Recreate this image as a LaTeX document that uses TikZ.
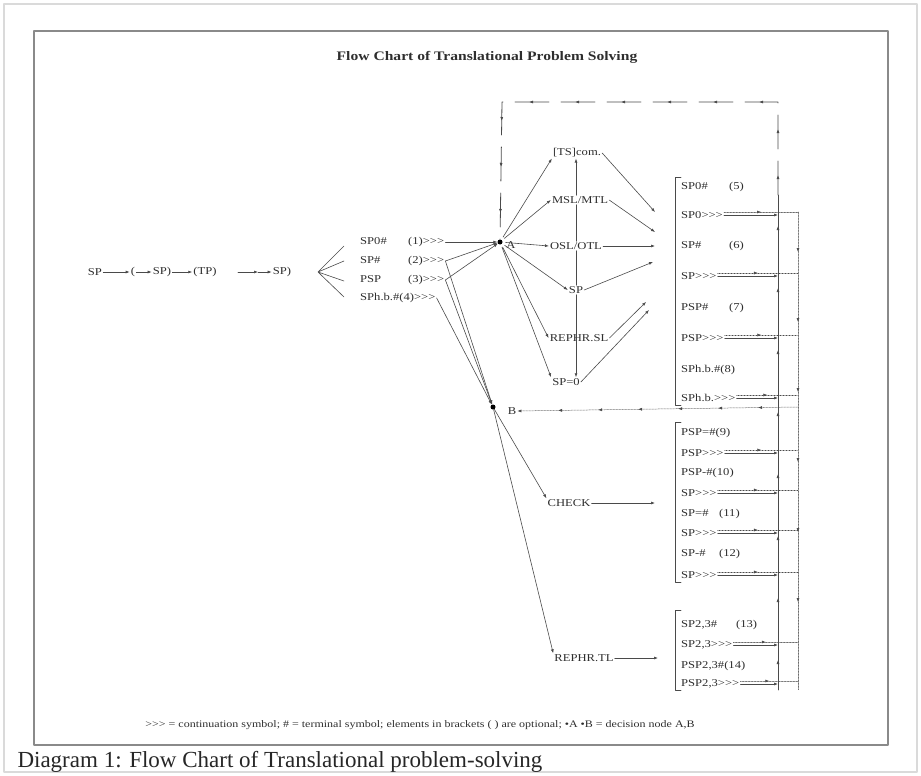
\documentclass[tikz,border=0pt]{standalone}
\usepackage{fontspec}
\setmainfont{Liberation Serif}
\newfontfamily\flowfont{Liberation Serif}[FakeStretch=1.2]
\usetikzlibrary{arrows.meta,decorations.markings}

\definecolor{inkgray}{HTML}{2E2E2E}
\definecolor{wiregray}{HTML}{4A4A4A}
\definecolor{framegray}{HTML}{8A8A8A}
\definecolor{edgegray}{HTML}{DADADA}

\newcommand\cntsym{>\kern0pt>\kern0pt>}

\tikzset{
  lbl/.style={font=\flowfont\fontsize{10.5}{11}\selectfont,text=inkgray,inner sep=1pt},
  item/.style={lbl,anchor=west},
  wire/.style={draw=wiregray,line width=.6pt},
  arr/.style={wire,-{Latex[length=4pt,width=3pt]}},
  dotwire/.style={draw=wiregray,line width=.5pt,densely dotted},
  tipsalong/.style={postaction={decorate,decoration={markings,
      mark=between positions #1 with {\arrow{Latex[length=4pt,width=3pt]}}}}},
  dnode/.style={circle,fill=black,inner sep=0pt,minimum size=5pt},
}

\begin{document}
\begin{tikzpicture}[x=1pt,y=-1pt,line cap=round,line join=round]
\path[use as bounding box] (0,0) rectangle (921,776);
% frames
\draw[edgegray,line width=1.2pt] (4,4) rectangle (917,772);
\draw[framegray,line width=1.6pt] (34,31) rectangle (888,745);
\node[font=\flowfont\bfseries\fontsize{13}{14}\selectfont,text=inkgray] (title) at (487,57) {Flow Chart of Translational Problem Solving};

% left chain
\node[lbl] (n1) at (95,272) {SP};
\node[lbl] (n2) at (133,272) {(};
\node[lbl] (n3) at (162,272) {SP)};
\node[lbl] (n4) at (205,272) {(TP)};
\coordinate (c1) at (238,272);
\coordinate (c2) at (258,272);
\node[lbl] (n5) at (282,272) {SP)};
\draw[arr] (n1) -- (n2);
\draw[arr] (n2) -- (n3);
\draw[arr] (n3) -- (n4);
\draw[arr] (c1) -- (c2);
\draw[arr] (c2) -- (n5);
\coordinate (fan) at (318,272);
\coordinate (f1) at (344,246);
\coordinate (f2) at (344,261);
\coordinate (f3) at (344,281);
\coordinate (f4) at (344,297);
\draw[wire] (f1) -- (fan) -- (f2) (f3) -- (fan) -- (f4);

% middle list
\node[item] (m1) at (359,242) {\makebox[48pt][l]{SP0\#}(1)\cntsym};
\node[item] (m2) at (359,261) {\makebox[48pt][l]{SP\#}(2)\cntsym};
\node[item] (m3) at (359,280) {\makebox[48pt][l]{PSP}(3)\cntsym};
\node[item] (m4) at (359,298) {SPh.b.\#(4)\cntsym};

% decision nodes
\node[dnode] (A) at (500,242) {};
\node[lbl] (Alab) at (511,245) {A};
\node[dnode] (B) at (493,407) {};
\node[lbl] (Blab) at (512,411) {B};
\draw[arr] (m1) -- (A);
\draw[arr] (m2.east) -- (A);
\draw[arr] (m3.east) -- (A);
\draw[arr] (m2.east) -- (B);
\draw[arr] (m3.east) -- (B);
\draw[arr] (m4.east) -- (B);

% branch A
\node[lbl] (ts) at (577,153) {[TS]com.};
\node[lbl] (msl) at (580,200) {MSL/MTL};
\node[lbl] (osl) at (576,246) {OSL/OTL};
\node[lbl] (spc) at (576,290) {SP};
\node[lbl] (reph) at (579,338) {REPHR.SL};
\node[lbl] (spz) at (566,382) {SP=0};
\draw[arr,shorten <=3pt] (A) -- (ts.south west);
\draw[arr,shorten <=3pt] (A) -- (msl.west);
\draw[arr,shorten <=3pt] (A) -- (osl.west);
\draw[arr,shorten <=3pt] (A) -- (spc.west);
\draw[arr,shorten <=3pt] (A) -- (reph.west);
\draw[arr,shorten <=3pt] (A) -- (spz.north west);
\draw[arr] (msl.north -| spc) -- (ts.south -| spc);
\draw[wire] (osl.north -| spc) -- (msl.south -| spc);
\draw[wire] (spc.north) -- (osl.south -| spc);
\draw[arr] (spc.south) -- (spc |- spz.north);
\coordinate (e1) at (655,212);
\coordinate (e2) at (655,232);
\coordinate (e3) at (655,246);
\coordinate (e4) at (653,262);
\coordinate (e5) at (646,302);
\coordinate (e6) at (649,310);
\draw[arr] (ts.east) -- (e1);
\draw[arr] (msl.east) -- (e2);
\draw[arr] (osl.east) -- (e3);
\draw[arr] (spc.east) -- (e4);
\draw[arr] (reph.east) -- (e5);
\draw[arr] (spz.east) -- (e6);

% branch B
\node[lbl] (check) at (569,503) {CHECK};
\coordinate (chk) at (655,503);
\node[lbl] (rephtl) at (584,658) {REPHR.TL};
\coordinate (rtl) at (658,658);
\draw[arr] (B) -- (check.north west);
\draw[arr] (B) -- (rephtl.north west);
\draw[arr] (check) -- (chk);
\draw[arr] (rephtl) -- (rtl);

% right lists
\draw[wire] (681,177) -- (675,177) -- (675,405) -- (681,405);
\draw[wire] (681,422) -- (675,422) -- (675,582) -- (681,582);
\draw[wire] (681,610) -- (675,610) -- (675,690) -- (681,690);
\node[item] (r1) at (680,187) {\makebox[48pt][l]{SP0\#}(5)};
\node[item] (r2) at (680,215) {SP0\cntsym};
\node[item] (r3) at (680,246) {\makebox[48pt][l]{SP\#}(6)};
\node[item] (r4) at (680,276) {SP\cntsym};
\node[item] (r5) at (680,308) {\makebox[48pt][l]{PSP\#}(7)};
\node[item] (r6) at (680,338) {PSP\cntsym};
\node[item] (r7) at (680,370) {SPh.b.\#(8)};
\node[item] (r8) at (680,398) {SPh.b.\cntsym};
\node[item] (r9) at (680,433) {PSP=\#(9)};
\node[item] (r10) at (680,453) {PSP\cntsym};
\node[item] (r11) at (680,473) {PSP-\#(10)};
\node[item] (r12) at (680,493) {SP\cntsym};
\node[item] (r13) at (680,514) {\makebox[38pt][l]{SP=\#}(11)};
\node[item] (r14) at (680,533) {SP\cntsym};
\node[item] (r15) at (680,554) {\makebox[38pt][l]{SP-\#}(12)};
\node[item] (r16) at (680,575) {SP\cntsym};
\node[item] (r17) at (680,625) {\makebox[55pt][l]{SP2,3\#}(13)};
\node[item] (r18) at (680,645) {SP2,3\cntsym};
\node[item] (r19) at (680,666) {PSP2,3\#(14)};
\node[item] (r20) at (680,684) {PSP2,3\cntsym};

% return lines
\coordinate (upline) at (778,195);
\coordinate (upfoot) at (778,690);
\coordinate (backline) at (798,212);
\coordinate (backfoot) at (798,690);
\coordinate (loopR) at (778,102);
\coordinate (loopL) at (502,102);
\draw[wire,tipsalong={30pt and -20pt step 62pt}] (upfoot) -- (upline);
\draw[dotwire,tipsalong={40pt and -20pt step 70pt}] (backline) -- (backfoot);
\draw[wire,line width=.8pt,dash pattern=on 34pt off 12pt,tipsalong={20pt and -8pt step 46pt}]
  (upline) -- (loopR) -- (loopL) -- (A);
\draw[dotwire,-{Latex[length=4pt,width=3pt]},tipsalong={40pt and -20pt step 40pt}]
  (backline |- B) -- (Blab.east);
\foreach \r in {r2,r4,r6,r8,r10,r12,r14,r16,r18,r20}{
  \draw[arr] (\r.east) -- (\r.east -| upline);
  \draw[dotwire,tipsalong={0.5 and 0.6 step 100pt}] ([yshift=3pt]\r.east) -- ([yshift=3pt]\r.east -| backline);
}

% key and caption
\node[font=\flowfont\fontsize{10}{11}\selectfont,text=inkgray] (key) at (420,725)
  {\cntsym{} = continuation symbol; \# = terminal symbol; elements in brackets ( ) are optional; •A •B = decision node A,B};
\node[anchor=west,font=\fontsize{23}{25}\selectfont,text=black!85] (caption) at (14,762)
  {Diagram 1: Flow Chart of Translational problem-solving};
\end{tikzpicture}
\end{document}
